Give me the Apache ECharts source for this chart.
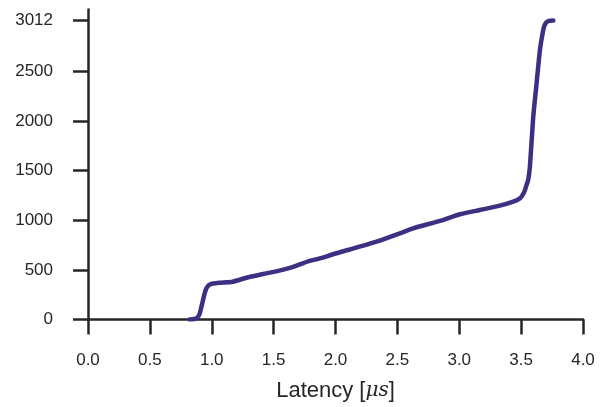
<!DOCTYPE html>
<html>
<head>
<meta charset="utf-8">
<script src="https://cdn.jsdelivr.net/npm/echarts@6/dist/echarts.min.js"></script>
<style>
  html, body { margin: 0; padding: 0; background: #fff; }
  #chart { width: 609px; height: 407px; }
</style>
</head>
<body>
<div id="chart"></div>
<script>
// latency (µs) and cumulative count
const latency = [0.82, 0.86, 0.88, 0.9, 0.917, 0.943, 0.955, 0.97, 0.985, 1.01, 1.06, 1.17,
  1.28, 1.415, 1.52, 1.63, 1.711, 1.792, 1.873, 2.0, 2.116, 2.331, 2.52, 2.627, 2.843,
  3.005, 3.166, 3.328, 3.436, 3.49, 3.51, 3.53, 3.545, 3.557, 3.571, 3.598, 3.625, 3.652,
  3.679, 3.69, 3.706, 3.725, 3.76]
const counts = [0, 5, 15, 50, 130, 264, 310, 338, 352, 362, 370, 381,
  421, 459, 485, 520, 555, 590, 615, 665, 705, 784, 868, 919, 993,
  1060, 1103, 1147, 1187, 1221, 1250, 1300, 1360, 1406, 1540, 2043, 2380, 2715,
  2917, 2965, 2995, 3008, 3012]
const yTicks = [0, 500, 1000, 1500, 2000, 2500, 3012]

const axisColor = '#262626'
const chart = echarts.init(document.getElementById('chart'))

chart.setOption({
  animation: false,
  grid: {
    left: 88,
    right: 26,
    top: 9.5,
    bottom: 87.5,
  },
  xAxis: {
    type: 'value',
    min: 0,
    max: 4,
    interval: 0.5,
    name: '{a|Latency [}{m|μs}{a|]}',
    nameLocation: 'middle',
    nameGap: 60,
    nameTextStyle: {
      rich: {
        a: { fontFamily: 'Liberation Sans', fontSize: 22, color: axisColor },
        m: { fontFamily: 'DejaVu Serif', fontStyle: 'italic', fontSize: 20, color: axisColor },
      },
    },
    axisLine: { lineStyle: { color: axisColor, width: 2.5 } },
    axisTick: { length: 15, lineStyle: { color: axisColor, width: 2.5 } },
    axisLabel: {
      margin: 32,
      fontFamily: 'Liberation Sans',
      fontSize: 17,
      color: axisColor,
      formatter: (v) => v.toFixed(1),
    },
    splitLine: { show: false },
  },
  yAxis: {
    type: 'value',
    min: 0,
    max: 3123,
    axisLine: { show: true, lineStyle: { color: axisColor, width: 2.5 } },
    axisTick: {
      show: true,
      length: 15,
      customValues: yTicks,
      lineStyle: { color: axisColor, width: 2.5 },
    },
    axisLabel: {
      margin: 35,
      fontFamily: 'Liberation Sans',
      fontSize: 17,
      color: axisColor,
      customValues: yTicks,
      formatter: (v) => String(v),
    },
    splitLine: { show: false },
  },
  series: [
    {
      type: 'line',
      data: latency.map((x, i) => [x, counts[i]]),
      showSymbol: false,
      smooth: 0.2,
      lineStyle: { color: '#3e2f83', width: 4.5, cap: 'round', join: 'round' },
    },
  ],
})
</script>
</body>
</html>
